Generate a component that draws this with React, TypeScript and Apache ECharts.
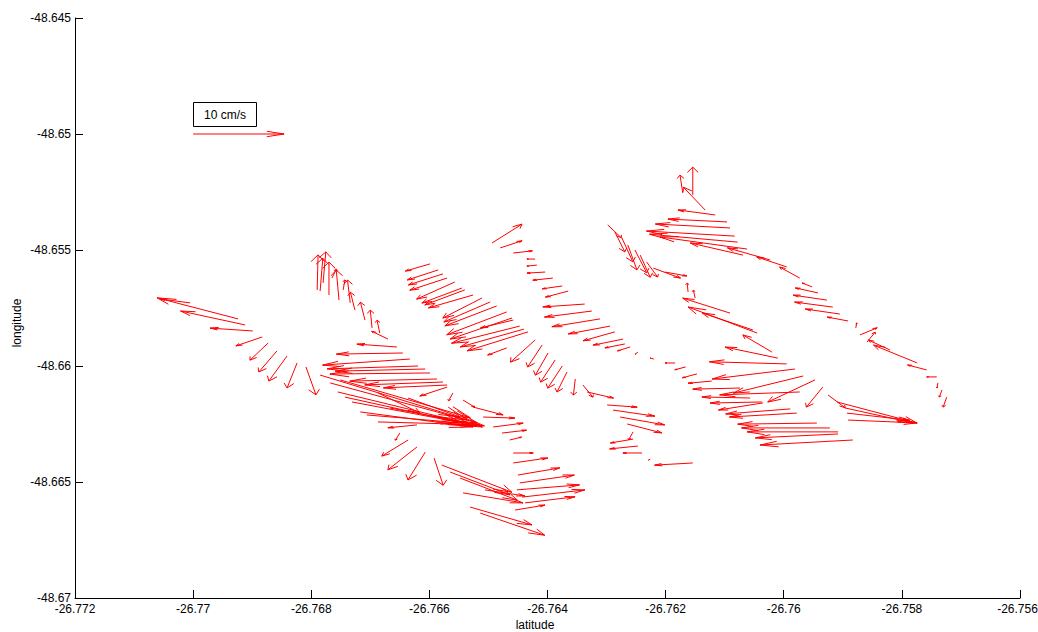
import { useEffect, useRef } from "react";
import * as echarts from "echarts";

// Each record: [tail latitude, tail longitude, eastward cm/s, northward cm/s]
type Vec = [number, number, number, number];

const trackA: Vec[] = [
  [-26.76924, -48.65797, -8.9, 5.9],
  [-26.77005, -48.65728, -3.3, 1.1],
  [-26.76912, -48.65823, -7.1, 3.9],
  [-26.76899, -48.65849, -4.7, 0.8],
  [-26.76883, -48.65875, -2.9, -2.5],
  [-26.76873, -48.65901, -2.0, -4.8],
  [-26.76858, -48.65935, -2.0, -5.9],
  [-26.76841, -48.65957, -2.0, -7.0],
  [-26.76824, -48.65987, -1.1, -7.0],
  [-26.76809, -48.66004, 1.1, -7.8],
];

const trackB: Vec[] = [
  [-26.7679, -48.65672, 0.1, 9.8],
  [-26.7678, -48.65642, 0.3, 8.7],
  [-26.7677, -48.65694, 0.0, 9.2],
  [-26.76765, -48.65621, 0.5, 2.5],
  [-26.76753, -48.65716, -0.3, 8.4],
  [-26.76746, -48.65672, 0.2, 2.8],
  [-26.76734, -48.65728, -0.3, 6.4],
  [-26.76726, -48.65759, -0.5, 5.0],
  [-26.76709, -48.65802, -0.5, 5.0],
  [-26.76697, -48.65836, -0.2, 5.0],
  [-26.76684, -48.65858, -0.3, 3.6],
  [-26.7667, -48.65884, -1.8, 2.2],
  [-26.76785, -48.65677, 0.3, 9.2],
];

const trackC: Vec[] = [
  [-26.76655, -48.65918, -4.4, 0.8],
  [-26.76645, -48.65944, -7.3, -0.3],
  [-26.76633, -48.6597, -9.6, -1.7],
  [-26.76619, -48.66, -10.0, -0.8],
  [-26.76607, -48.66013, -9.9, -0.6],
  [-26.76599, -48.6603, -11.0, -0.3],
  [-26.76587, -48.66056, -9.6, -0.6],
  [-26.76577, -48.66069, -8.6, -0.8],
  [-26.7657, -48.66082, -7.0, -0.8],
  [-26.7657, -48.66091, -3.0, -2.5],
  [-26.7656, -48.66116, -0.5, -2.2],
  [-26.76621, -48.66254, -3.2, -0.8],
  [-26.76785, -48.66039, 16.2, -12.6],
  [-26.76768, -48.66073, 16.2, -11.2],
  [-26.76755, -48.66112, 15.9, -9.8],
  [-26.76743, -48.66134, 13.0, -7.3],
  [-26.76731, -48.66155, 13.3, -6.4],
  [-26.76717, -48.66198, 12.4, -4.2],
  [-26.76706, -48.66211, 10.2, -2.2],
  [-26.76687, -48.66241, 11.2, -0.8],
  [-26.76687, -48.66116, 4.6, -5.6],
  [-26.76636, -48.66138, 5.7, -5.3],
  [-26.76543, -48.66147, 1.3, -2.0],
  [-26.76526, -48.66177, 3.3, -2.2],
  [-26.76509, -48.6622, 3.5, -0.3],
  [-26.76751, -48.6606, 14.3, -10.6],
  [-26.76667, -48.66181, 10.4, -5.0],
  [-26.7665, -48.66289, -0.5, -2.0],
  [-26.76636, -48.66319, -2.9, -4.5],
  [-26.76621, -48.66349, -3.2, -6.4],
  [-26.76607, -48.66371, -1.9, -7.8],
  [-26.76592, -48.66397, 1.0, -7.6],
  [-26.76579, -48.66427, 7.7, -7.6],
  [-26.76565, -48.66457, 6.6, -6.4],
  [-26.76548, -48.66483, 6.3, -6.2],
  [-26.76543, -48.66547, 6.6, -2.8],
  [-26.76531, -48.66608, 6.8, -5.0],
  [-26.76514, -48.66634, 7.1, -6.2],
  [-26.76506, -48.66534, 4.4, -1.7],
];

const trackD: Vec[] = [
  [-26.76599, -48.6556, -2.7, -2.0],
  [-26.76585, -48.65586, -3.4, -2.8],
  [-26.76577, -48.65603, -3.8, -3.1],
  [-26.7657, -48.65621, -4.1, -3.4],
  [-26.76557, -48.65638, -4.2, -4.8],
  [-26.7654, -48.65672, -4.4, -4.2],
  [-26.76526, -48.65694, -4.9, -3.6],
  [-26.76511, -48.65707, -4.3, -5.6],
  [-26.76497, -48.65724, -5.1, -5.6],
  [-26.76486, -48.65741, -5.7, -5.6],
  [-26.76469, -48.65767, -6.6, -6.4],
  [-26.7646, -48.65793, -6.8, -5.9],
  [-26.76447, -48.65828, -7.5, -4.8],
  [-26.7644, -48.65841, -7.0, -5.0],
  [-26.76433, -48.65853, -6.7, -5.3],
  [-26.76469, -48.65922, -2.1, -2.0],
  [-26.76421, -48.65888, -2.7, -6.2],
  [-26.76409, -48.65909, -1.6, -6.2],
  [-26.76399, -48.65944, -1.4, -6.2],
  [-26.76387, -48.65974, -1.6, -6.2],
  [-26.76375, -48.66, -1.6, -6.2],
  [-26.76367, -48.66026, -1.1, -5.6],
  [-26.76353, -48.66056, -0.2, -4.5],
  [-26.76458, -48.65802, -3.6, -2.2],
  [-26.76545, -48.65664, -4.4, -4.2],
  [-26.76492, -48.66263, 3.3, 1.1],
  [-26.76477, -48.66289, 2.7, 0.8],
  [-26.76464, -48.66319, 1.3, 0.8],
  [-26.76458, -48.66375, 2.2, 0.0],
  [-26.76458, -48.66418, 3.8, 1.4],
  [-26.7645, -48.6647, 4.6, 2.0],
  [-26.76447, -48.66504, 6.0, 2.2],
  [-26.76452, -48.66534, 6.9, 1.4],
  [-26.76443, -48.66565, 6.9, 2.0],
  [-26.76438, -48.6659, 5.5, 1.7],
  [-26.76455, -48.66621, 3.3, 1.4],
];

const trackE: Vec[] = [
  [-26.76494, -48.6547, 3.3, 5.3],
  [-26.7648, -48.65491, 2.4, 2.0],
  [-26.76458, -48.65513, 2.1, 0.6],
  [-26.76421, -48.65539, -0.9, 0.0],
  [-26.76418, -48.65565, -1.1, -0.3],
  [-26.76404, -48.65595, -2.0, -0.3],
  [-26.76391, -48.65621, -2.2, -0.6],
  [-26.76375, -48.65655, -2.2, -0.8],
  [-26.76365, -48.65677, -2.5, -1.7],
  [-26.76337, -48.65733, -4.6, -0.8],
  [-26.76325, -48.65763, -5.2, -1.7],
  [-26.76311, -48.65797, -5.3, -2.2],
  [-26.76294, -48.65828, -4.6, -2.2],
  [-26.76286, -48.65853, -3.5, -2.5],
  [-26.76272, -48.65884, -3.3, -1.7],
  [-26.76269, -48.65905, -2.2, -1.1],
  [-26.7626, -48.65918, -1.4, -1.1],
  [-26.76247, -48.6594, -0.3, -0.6],
  [-26.7622, -48.6597, -0.4, 0.3],
  [-26.76184, -48.65987, -1.1, 0.0],
  [-26.76166, -48.66004, -1.2, -0.8],
  [-26.76147, -48.66034, -1.6, -1.1],
  [-26.76122, -48.66065, -2.6, -0.6],
  [-26.7634, -48.66082, 1.1, -3.4],
  [-26.76333, -48.66112, 2.9, -1.7],
  [-26.76299, -48.66168, 3.3, -0.6],
  [-26.76289, -48.6619, 4.6, -1.7],
  [-26.76277, -48.6622, 4.9, -2.2],
  [-26.76265, -48.6625, 3.8, -2.5],
  [-26.76255, -48.66284, -0.5, -2.2],
  [-26.76255, -48.66315, -2.5, -1.1],
  [-26.76247, -48.66345, -3.1, -0.8],
  [-26.7624, -48.66375, -2.1, 0.0],
  [-26.76154, -48.66418, -4.2, -0.6],
  [-26.76226, -48.66401, -0.2, -0.3],
];

const trackF: Vec[] = [
  [-26.76154, -48.65263, 0.0, 7.8],
  [-26.76171, -48.65254, -0.3, 5.0],
  [-26.76133, -48.65328, -2.4, 6.4],
  [-26.76116, -48.65349, -4.1, 1.4],
  [-26.76096, -48.65379, -6.5, 0.8],
  [-26.76091, -48.65405, -8.2, 1.1],
  [-26.76083, -48.6544, -9.7, 1.4],
  [-26.76078, -48.65466, -9.7, 2.2],
  [-26.76062, -48.65496, -9.6, 3.4],
  [-26.76069, -48.65522, -5.8, 3.4],
  [-26.76023, -48.65543, -4.7, 3.4],
  [-26.75995, -48.65573, -3.3, 2.8],
  [-26.75973, -48.65621, -2.2, 3.1],
  [-26.75952, -48.65659, -1.1, 1.1],
  [-26.7615, -48.65707, -0.2, 2.2],
  [-26.76091, -48.65772, -5.2, 4.2],
  [-26.76045, -48.65858, -7.6, 7.3],
  [-26.76052, -48.65845, -5.6, 4.8],
  [-26.7602, -48.6594, -3.2, 4.8],
  [-26.7601, -48.65966, -5.8, 3.1],
  [-26.75995, -48.65991, -8.5, 0.6],
  [-26.75981, -48.66013, -9.1, -2.8],
  [-26.76074, -48.66095, -5.2, -0.3],
  [-26.75967, -48.66043, -7.7, -4.8],
  [-26.76057, -48.66138, -5.3, 0.3],
  [-26.75973, -48.66112, -8.8, -0.8],
  [-26.76037, -48.66155, -5.7, -0.3],
  [-26.75947, -48.6606, -5.2, -6.2],
  [-26.75934, -48.66091, -1.8, -5.6],
  [-26.76035, -48.66159, -4.9, -2.0],
  [-26.75989, -48.66185, -7.1, -1.4],
  [-26.75978, -48.66203, -7.4, -1.1],
  [-26.75944, -48.66246, -8.7, -0.3],
  [-26.75922, -48.66267, -9.7, 0.0],
  [-26.75908, -48.66284, -10.0, 0.0],
  [-26.75908, -48.66293, -9.1, -1.1],
  [-26.75883, -48.66319, -10.2, -1.4],
  [-26.75942, -48.65685, -2.5, 1.4],
  [-26.75927, -48.65716, -3.7, 1.4],
  [-26.75917, -48.65746, -4.2, 1.4],
  [-26.75905, -48.65776, -3.8, 1.4],
  [-26.75891, -48.65806, -2.3, 1.1],
  [-26.75878, -48.65836, 0.1, 1.4],
];

const trackG: Vec[] = [
  [-26.76298, -48.65392, 1.5, -3.6],
  [-26.76286, -48.65422, 1.1, -5.6],
  [-26.76274, -48.65448, 1.2, -6.7],
  [-26.76264, -48.65478, 1.0, -7.0],
  [-26.76252, -48.655, 1.3, -6.4],
  [-26.76243, -48.65522, 1.1, -6.2],
  [-26.76232, -48.65552, 1.2, -4.2],
  [-26.76221, -48.65578, 3.0, -2.8],
  [-26.76201, -48.65595, 2.4, -1.1],
  [-26.76162, -48.65681, -0.1, 2.5],
];

const trackH: Vec[] = [
  [-26.75871, -48.65866, 1.9, 2.0],
  [-26.75859, -48.65897, 0.9, 2.8],
  [-26.7582, -48.65931, -2.4, 2.8],
  [-26.75774, -48.65987, -4.8, 5.0],
  [-26.75758, -48.66017, -2.1, 1.4],
  [-26.75741, -48.66047, -1.1, 0.0],
  [-26.75739, -48.66073, -0.1, -1.4],
  [-26.75732, -48.66103, -0.3, -2.0],
  [-26.75724, -48.66134, -0.4, -2.8],
  [-26.75925, -48.66125, 1.9, -3.6],
  [-26.7591, -48.66155, 8.8, -5.9],
  [-26.75896, -48.66181, 7.5, -4.2],
  [-26.75893, -48.66203, 6.9, -2.0],
  [-26.75891, -48.66233, 7.6, -0.8],
];

// Reference vector drawn under its label box
const scaleVector: Vec[] = [[-26.77, -48.65, 10, 0]];
const scaleLabel = "10 cm/s";

// Axis extents, tick steps and titles
const latRange = [-26.772, -26.756];
const latStep = 0.002;
const lonRange = [-48.67, -48.645];
const lonStep = 0.005;
const xTitle = "latitude";
const yTitle = "longitude";

// Degrees of arrow length per cm/s, and arrowhead proportions
const DEG_PER_CMS = 0.000154;
const HEAD_LEN = 0.19;
const HEAD_WIDTH = 0.4;

const FONT = "'Liberation Sans', Arial, Helvetica, sans-serif";
const RED = "#ff0000";

function arrowChildren(api: any) {
  const lat = api.value(0);
  const lon = api.value(1);
  const du = api.value(2) * DEG_PER_CMS;
  const dv = api.value(3) * DEG_PER_CMS;
  const tail = api.coord([lat, lon]);
  const tip = api.coord([lat + du, lon + dv]);
  const left = api.coord([
    lat + du - HEAD_LEN * (du + HEAD_WIDTH * dv),
    lon + dv - HEAD_LEN * (dv - HEAD_WIDTH * du),
  ]);
  const right = api.coord([
    lat + du - HEAD_LEN * (du - HEAD_WIDTH * dv),
    lon + dv - HEAD_LEN * (dv + HEAD_WIDTH * du),
  ]);
  const style = { stroke: RED, lineWidth: 1, fill: null };
  return {
    tail,
    children: [
      { type: "polyline", shape: { points: [tail, tip] }, style },
      { type: "polyline", shape: { points: [left, tip, right] }, style },
    ],
  };
}

export default function App() {
  const ref = useRef<HTMLDivElement>(null);

  useEffect(() => {
    if (!ref.current) return;
    const chart = echarts.init(ref.current, undefined, { renderer: "svg" });
    const vectors = [
      ...trackA,
      ...trackB,
      ...trackC,
      ...trackD,
      ...trackE,
      ...trackF,
      ...trackG,
      ...trackH,
    ];

    const fmt = (v: number) => String(Number(v.toFixed(3)));
    // the last latitude label sits at the right edge, so nudge it inward a little
    const latLabelFmt = (v: number) =>
      Math.abs(v - latRange[1]) < 1e-9 ? `{edge|${fmt(v)}}` : fmt(v);
    const labelText = { color: "#000", fontSize: 12, fontFamily: FONT };
    const axisCommon = {
      type: "value",
      axisLine: { show: true, onZero: false, lineStyle: { color: "#000", width: 1 } },
      axisTick: { show: true, inside: true, length: 8, lineStyle: { color: "#000", width: 1 } },
      splitLine: { show: false },
    };

    chart.setOption({
      animation: false,
      backgroundColor: "#fff",
      grid: { left: 75, right: 18, top: 18, bottom: 34, containLabel: false, outerBoundsMode: "none" },
      graphic: [
        {
          type: "text",
          x: 535,
          y: 625,
          style: {
            text: xTitle,
            align: "center",
            verticalAlign: "middle",
            fontSize: 12,
            fontFamily: FONT,
            fill: "#000",
          },
        },
        {
          type: "text",
          x: 17,
          y: 323,
          rotation: Math.PI / 2,
          style: {
            text: yTitle,
            align: "center",
            verticalAlign: "middle",
            fontSize: 12,
            fontFamily: FONT,
            fill: "#000",
          },
        },
      ],
      xAxis: {
        ...axisCommon,
        min: latRange[0],
        max: latRange[1],
        interval: latStep,
        axisLabel: {
          ...labelText,
          margin: 5,
          showMinLabel: true,
          showMaxLabel: true,
          formatter: latLabelFmt,
          rich: { edge: { ...labelText, padding: [0, 5, 0, 0] } },
        },
      },
      yAxis: {
        ...axisCommon,
        min: lonRange[0],
        max: lonRange[1],
        interval: lonStep,
        axisLabel: {
          ...labelText,
          margin: 4,
          showMinLabel: true,
          showMaxLabel: true,
          formatter: fmt,
        },
      },
      series: [
        {
          type: "custom",
          name: "current",
          coordinateSystem: "cartesian2d",
          encode: { x: 0, y: 1 },
          data: vectors,
          renderItem: (_params: any, api: any) => {
            const { children } = arrowChildren(api);
            return { type: "group", children };
          },
        },
        {
          type: "custom",
          name: "scale",
          coordinateSystem: "cartesian2d",
          encode: { x: 0, y: 1 },
          data: scaleVector,
          renderItem: (_params: any, api: any) => {
            const { tail, children } = arrowChildren(api);
            const bx = Math.round(tail[0]) + 0.5;
            const by = Math.round(tail[1]) - 31.5;
            return {
              type: "group",
              children: [
                {
                  type: "rect",
                  shape: { x: bx, y: by, width: 63, height: 24 },
                  style: { stroke: "#000", lineWidth: 1, fill: "#fff" },
                },
                {
                  type: "text",
                  style: {
                    text: scaleLabel,
                    x: bx + 31.5,
                    y: by + 12,
                    align: "center",
                    verticalAlign: "middle",
                    fontSize: 12,
                    fontFamily: FONT,
                    fill: "#000",
                  },
                },
                ...children,
              ],
            };
          },
        },
      ],
    });

    return () => chart.dispose();
  }, []);

  return (
    <div
      ref={ref}
      style={{ position: "fixed", left: 0, top: 0, width: 1038, height: 632, background: "#fff" }}
    />
  );
}
